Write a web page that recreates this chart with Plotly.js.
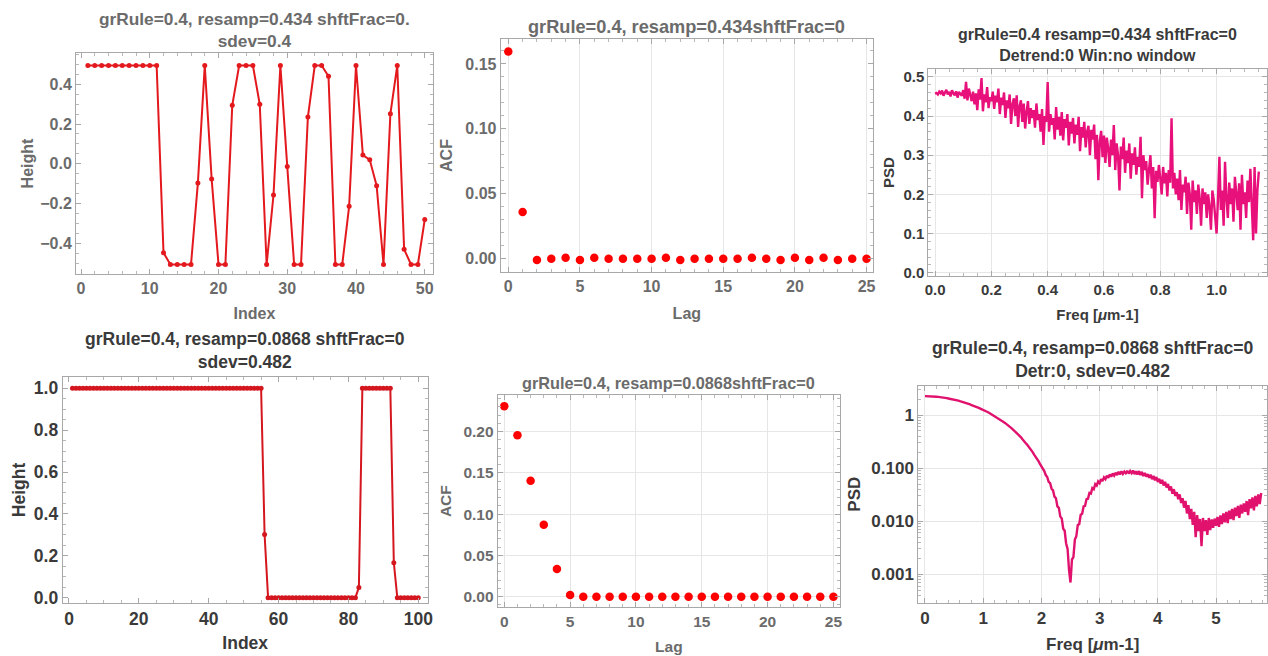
<!DOCTYPE html>
<html><head><meta charset="utf-8">
<script src="https://cdn.plot.ly/plotly-3.0.1.min.js"></script>
<style>html,body{margin:0;padding:0;background:#fff}#chart{width:1268px;height:656px}</style>
</head><body><div id="chart"></div>
<script>
// ---- Data ----
// Top-left: height profile, index 1..50
const heightTop = [0.494,0.494,0.494,0.494,0.494,0.494,0.494,0.494,0.494,0.494,
  0.494,-0.447,-0.506,-0.506,-0.506,-0.506,-0.096,0.494,-0.076,-0.506,
  -0.506,0.294,0.494,0.494,0.494,0.299,-0.506,-0.157,0.494,-0.014,
  -0.506,-0.506,0.235,0.494,0.494,0.440,-0.506,-0.506,-0.214,0.494,
  0.044,0.020,-0.110,-0.506,0.251,0.494,-0.430,-0.506,-0.506,-0.280];
// Top-middle: ACF, lag 0..25
const acfTop = [0.1595,0.0358,-0.0013,-0.0003,0.0005,-0.0013,0.0005,-0.0003,-0.0003,-0.0003,
  -0.0003,0.0005,-0.0013,-0.0003,-0.0003,-0.0003,-0.0003,0.0005,-0.0003,-0.0013,
  0.0005,-0.0013,0.0005,-0.0013,-0.0003,-0.0003];
// Top-right: PSD, freq 0..1.15 step 0.005
const psdTopStep = 0.005;
const psdTop = [
  0.457,0.459,0.455,0.462,0.458,0.465,0.452,0.460,0.467,0.455,
  0.462,0.450,0.466,0.458,0.453,0.463,0.447,0.461,0.456,0.452,
  0.466,0.444,0.487,0.440,0.470,0.452,0.438,0.462,0.430,0.458,
  0.415,0.468,0.442,0.497,0.412,0.455,0.435,0.474,0.420,0.448,
  0.438,0.462,0.418,0.452,0.435,0.470,0.405,0.447,0.428,0.460,
  0.395,0.440,0.420,0.455,0.380,0.430,0.445,0.400,0.453,0.372,
  0.425,0.440,0.385,0.432,0.368,0.410,0.438,0.380,0.420,0.395,
  0.415,0.370,0.432,0.390,0.405,0.360,0.418,0.326,0.400,0.385,
  0.487,0.360,0.405,0.378,0.395,0.340,0.423,0.365,0.398,0.350,
  0.410,0.338,0.392,0.370,0.405,0.325,0.385,0.355,0.395,0.330,
  0.378,0.352,0.398,0.310,0.372,0.345,0.385,0.320,0.360,0.375,
  0.300,0.365,0.340,0.378,0.290,0.352,0.236,0.335,0.362,0.295,
  0.350,0.280,0.345,0.318,0.270,0.340,0.300,0.377,0.262,0.330,
  0.300,0.210,0.322,0.290,0.345,0.255,0.312,0.280,0.330,0.240,
  0.305,0.275,0.320,0.250,0.296,0.270,0.347,0.190,0.300,0.262,
  0.285,0.225,0.270,0.300,0.215,0.270,0.139,0.260,0.232,0.275,
  0.240,0.200,0.270,0.228,0.255,0.195,0.262,0.230,0.394,0.215,
  0.255,0.200,0.240,0.185,0.262,0.160,0.225,0.205,0.245,0.150,
  0.230,0.200,0.110,0.235,0.180,0.210,0.150,0.225,0.190,0.120,
  0.215,0.175,0.205,0.140,0.200,0.168,0.110,0.210,0.185,0.140,
  0.100,0.190,0.296,0.160,0.210,0.120,0.283,0.190,0.140,0.230,
  0.175,0.215,0.130,0.245,0.200,0.160,0.228,0.110,0.250,0.175,
  0.205,0.140,0.235,0.180,0.265,0.150,0.083,0.270,0.100,0.210,
  0.258];
// Bottom-left: height profile, index 1..100
const heightBot = [
  1,1,1,1,1,1,1,1,1,1, 1,1,1,1,1,1,1,1,1,1,
  1,1,1,1,1,1,1,1,1,1, 1,1,1,1,1,1,1,1,1,1,
  1,1,1,1,1,1,1,1,1,1, 1,1,1,1,1,0.302,0,0,0,0,
  0,0,0,0,0,0,0,0,0,0, 0,0,0,0,0,0,0,0,0,0,
  0,0,0.049,1,1,1,1,1,1,1, 1,1,0.167,0,0,0,0,0,0,0];
// Bottom-middle: ACF, lag 0..25
const acfBot = [0.231,0.1956,0.1406,0.0873,0.0335,0.002,0,0,0,0,
  0,0,0,0,0,0,0,0,0,0, 0,0,0,0,0,0];
// Bottom-right: PSD (log), freq 0..5.775 step 0.025
const psdBotStep = 0.025;
const psdBot = [
  2.27,2.27,2.26,2.26,2.25,2.24,2.23,2.22,2.21,2.19,
  2.18,2.16,2.14,2.12,2.10,2.08,2.05,2.03,2.00,1.97,
  1.95,1.92,1.89,1.86,1.82,1.79,1.76,1.72,1.69,1.65,
  1.62,1.58,1.54,1.51,1.47,1.43,1.40,1.36,1.32,1.29,
  1.25,1.21,1.17,1.14,1.10,1.06,1.03,0.99,0.95,0.92,
  0.88,0.85,0.81,0.78,0.74,0.71,0.68,0.64,0.61,0.58,
  0.55,0.52,0.49,0.46,0.43,0.40,0.38,0.35,0.33,0.30,
  0.28,0.26,0.24,0.22,0.20,0.18,0.165,0.15,0.135,0.12,
  0.108,0.095,0.088,0.074,0.068,0.055,0.052,0.041,0.038,0.029,
  0.027,0.019,0.0178,0.0122,0.0112,0.0072,0.0066,0.0038,0.0030,0.0012,
  0.0007,0.0019,0.0021,0.0045,0.0052,0.0085,0.0088,0.0132,0.0138,0.0190,
  0.0195,0.026,0.0265,0.034,0.033,0.042,0.040,0.050,0.047,0.056,
  0.052,0.062,0.057,0.067,0.062,0.072,0.066,0.076,0.069,0.079,
  0.072,0.082,0.074,0.085,0.076,0.087,0.078,0.086,0.080,0.089,
  0.079,0.088,0.080,0.090,0.077,0.087,0.076,0.088,0.074,0.085,
  0.071,0.081,0.069,0.077,0.066,0.075,0.062,0.071,0.059,0.068,
  0.055,0.063,0.051,0.060,0.047,0.055,0.043,0.050,0.038,0.045,
  0.033,0.040,0.030,0.035,0.026,0.032,0.022,0.027,0.018,0.024,
  0.014,0.020,0.011,0.017,0.0085,0.015,0.005,0.013,0.0065,0.011,
  0.0034,0.0115,0.0065,0.0105,0.0055,0.0115,0.0068,0.0108,0.0075,0.0112,
  0.0082,0.0120,0.0078,0.0128,0.0088,0.0140,0.0095,0.0150,0.0092,0.0158,
  0.0110,0.0170,0.0105,0.0180,0.0125,0.0195,0.0115,0.0205,0.0140,0.0215,
  0.0150,0.0240,0.0130,0.0260,0.0175,0.0280,0.0160,0.0300,0.0190,0.0320,
  0.0210,0.0340];
const logTickVals = [0.001,0.01,0.1,1];
const logTickText = ['0.001','0.010','0.100','1'];

// ---- Styling helpers ----
const FONT = 'Liberation Sans, Arial, sans-serif';
const GRAY = '#6b6b6b', DARK = '#3a3a3a';
function ax(opts){
  const c = opts.color, fs = opts.size;
  const a = {
    domain: opts.domain, range: opts.range, type: opts.type || 'linear',
    showline: true, linecolor: '#a8a8a8', linewidth: 1, mirror: 'ticks',
    ticks: 'inside', ticklen: 5, tickcolor: '#a8a8a8', tickwidth: 1,
    showgrid: !!opts.grid, gridcolor: '#e6e6e6', gridwidth: 1,
    zeroline: false, fixedrange: true, automargin: false,
    tickfont: {family: FONT, size: fs, color: c, weight: 700},
    tickprefix: '<b>', ticksuffix: '</b>',
    title: {text: '<b>' + opts.title + '</b>', font: {family: FONT, size: opts.tsize || fs, color: c}, standoff: opts.standoff},
    anchor: opts.anchor
  };
  if (opts.dtick !== undefined) { a.dtick = opts.dtick; a.tick0 = opts.tick0 || 0; }
  if (opts.tickformat) a.tickformat = opts.tickformat;
  if (opts.tickvals) { a.tickmode = 'array'; a.tickvals = opts.tickvals; a.ticktext = opts.ticktext; }
  if (opts.minor) a.minor = {dtick: opts.minor, ticks: 'inside', ticklen: 3, tickcolor: '#b8b8b8', showgrid: false};
  return a;
}

const traces = [
  {type:'scatter', mode:'lines+markers', x0:1, dx:1, y: heightTop, xaxis:'x', yaxis:'y',
   line:{color:'#e3191e', width:2}, marker:{color:'#e3191e', size:5}},
  {type:'scatter', mode:'markers', x0:0, dx:1, y: acfTop, xaxis:'x2', yaxis:'y2',
   marker:{color:'#ff0000', size:8.5}},
  {type:'scatter', mode:'lines', x0:0, dx:psdTopStep, y: psdTop, xaxis:'x3', yaxis:'y3',
   line:{color:'#e8107a', width:2.4}},
  {type:'scatter', mode:'lines+markers', x0:1, dx:1, y: heightBot, xaxis:'x4', yaxis:'y4',
   line:{color:'#d4161e', width:2}, marker:{color:'#d4161e', size:5}},
  {type:'scatter', mode:'markers', x0:0, dx:1, y: acfBot, xaxis:'x5', yaxis:'y5',
   marker:{color:'#ff0000', size:8.5}},
  {type:'scatter', mode:'lines', x0:0, dx:psdBotStep, y: psdBot, xaxis:'x6', yaxis:'y6',
   line:{color:'#e0126e', width:2.4}}
];

const W = 1268, H = 656;
const dx = (a,b)=>[a/W, b/W];
const dy = (top,bot)=>[1-bot/H, 1-top/H];

const layout = {
  width: W, height: H, margin:{l:0,r:0,t:0,b:0},
  paper_bgcolor:'#fff', plot_bgcolor:'#fff', showlegend:false,
  font:{family: FONT},
  xaxis:  ax({domain:dx(76,433), range:[-0.73,51.2], dtick:10, minor:2, title:'Index', color:GRAY, size:16, anchor:'y', standoff:11}),
  yaxis:  ax({domain:dy(53,274), range:[-0.554,0.557], dtick:0.2, tickformat:'.1f', minor:0.05, title:'Height', color:GRAY, size:16, anchor:'x', standoff:2}),
  xaxis2: ax({domain:dx(500.7,873), range:[-0.53,25.45], dtick:5, minor:1, grid:true, title:'Lag', color:GRAY, size:16, anchor:'y2', standoff:13}),
  yaxis2: ax({domain:dy(39.3,271.7), range:[-0.0103,0.169], dtick:0.05, tickformat:'.2f', minor:0.01, title:'ACF', color:GRAY, size:16, anchor:'x2', standoff:8}),
  xaxis3: ax({domain:dx(928.3,1266.7), range:[-0.024,1.178], dtick:0.2, tickformat:'.1f', minor:0.05, grid:true, title:'Freq [<i>μ</i>m-1]', color:DARK, size:15, anchor:'y3', standoff:12}),
  yaxis3: ax({domain:dy(69,276), range:[-0.0084,0.52], dtick:0.1, tickformat:'.1f', minor:0.02, grid:true, title:'PSD', color:DARK, size:15, anchor:'x3', standoff:5}),
  xaxis4: ax({domain:dx(62.7,427.7), range:[-1.8,102.7], dtick:20, minor:5, title:'Index', color:DARK, size:17.5, anchor:'y4', standoff:9}),
  yaxis4: ax({domain:dy(377.3,602.7), range:[-0.024,1.0526], dtick:0.2, tickformat:'.1f', minor:0.05, title:'Height', color:DARK, size:17.5, anchor:'x4', standoff:3}),
  xaxis5: ax({domain:dx(497.7,840), range:[-0.5,25.5], dtick:5, minor:1, grid:true, title:'Lag', color:GRAY, size:15.5, anchor:'y5', standoff:12}),
  yaxis5: ax({domain:dy(395,607.3), range:[-0.0129,0.2445], dtick:0.05, tickformat:'.2f', minor:0.01, grid:true, title:'ACF', color:GRAY, size:15.5, anchor:'x5', standoff:7}),
  xaxis6: ax({domain:dx(918.3,1267.3), range:[-0.114,5.88], dtick:1, minor:0.2, grid:true, title:'Freq [<i>μ</i>m-1]', color:DARK, size:17, anchor:'y6', standoff:11}),
  yaxis6: ax({domain:dy(385.7,602.7), type:'log', range:[-3.535,0.552], tickvals:logTickVals, ticktext:logTickText, grid:true, title:'PSD', color:DARK, size:17, anchor:'x6', standoff:6}),
  annotations: [
    {text:'<b>grRule=0.4, resamp=0.434 shftFrac=0.</b><br><b>sdev=0.4</b>', cx:254.5, cy:30, size:17.3, color:GRAY},
    {text:'<b>grRule=0.4, resamp=0.434shftFrac=0</b>', cx:686.8, cy:27, size:18.2, color:GRAY},
    {text:'<b>grRule=0.4 resamp=0.434 shftFrac=0</b><br><b>Detrend:0 Win:no window</b>', cx:1097.5, cy:44.5, size:16, color:DARK},
    {text:'<b>grRule=0.4, resamp=0.0868 shftFrac=0</b><br><b>sdev=0.482</b>', cx:245.2, cy:350, size:17.5, color:DARK},
    {text:'<b>grRule=0.4, resamp=0.0868shftFrac=0</b>', cx:668.8, cy:383.3, size:16.3, color:GRAY},
    {text:'<b>grRule=0.4, resamp=0.0868 shftFrac=0</b><br><b>Detr:0, sdev=0.482</b>', cx:1092.8, cy:359, size:17.6, color:DARK}
  ].map(a => ({text:a.text, xref:'paper', yref:'paper', x:a.cx/W, y:1-a.cy/H,
      xanchor:'center', yanchor:'middle', showarrow:false,
      font:{family:FONT, size:a.size, color:a.color}}))
};
layout.yaxis6.minor = {dtick:'D1', ticks:'inside', ticklen:3, tickcolor:'#b8b8b8', showgrid:false};

Plotly.newPlot('chart', traces, layout, {staticPlot:true, displayModeBar:false});
</script>
</body></html>
